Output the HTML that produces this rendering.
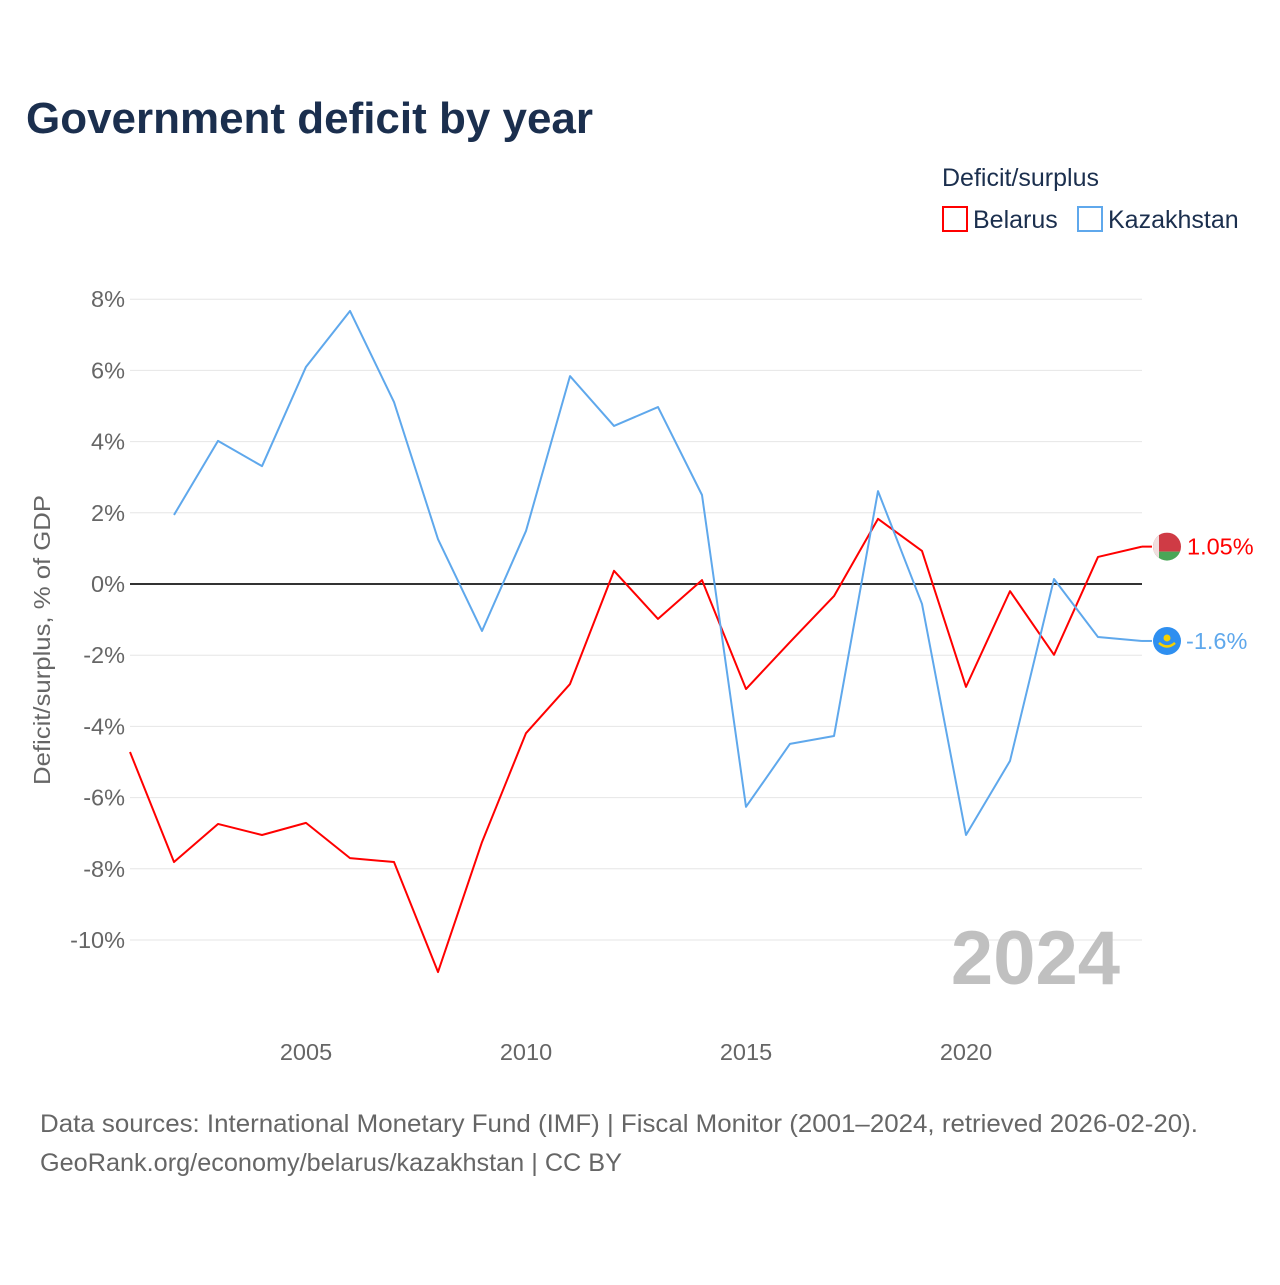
<!DOCTYPE html>
<html><head><meta charset="utf-8"><style>
html,body{margin:0;padding:0;background:#fff;}
body{width:1280px;height:1280px;overflow:hidden;font-family:"Liberation Sans",sans-serif;}
</style></head><body>
<svg id="chart" width="1280" height="1280" xmlns="http://www.w3.org/2000/svg" font-family="Liberation Sans, sans-serif">
<defs><clipPath id="cb"><circle id="cbc" cx="1167" cy="0" r="14"/></clipPath></defs>
<text x="26" y="133" font-size="44" font-weight="bold" fill="#1b2f4e" textLength="567" lengthAdjust="spacingAndGlyphs">Government deficit by year</text>
<text x="942" y="186" font-size="25" fill="#1b2f4e">Deficit/surplus</text>
<g>
<rect x="943" y="207" width="24" height="24" fill="none" stroke="#ff0000" stroke-width="2"/>
<text x="973" y="228" font-size="25" fill="#1b2f4e">Belarus</text></g>
<g>
<rect x="1078" y="207" width="24" height="24" fill="none" stroke="#5fa8ec" stroke-width="2"/>
<text x="1108" y="228" font-size="25" fill="#1b2f4e">Kazakhstan</text></g>
<text transform="translate(50,640) rotate(-90)" text-anchor="middle" font-size="23" fill="#666" textLength="290" lengthAdjust="spacingAndGlyphs">Deficit/surplus, % of GDP</text>
<g id="grid"></g><g id="yticks"></g><g id="xticks"></g>
<text x="1120" y="984" text-anchor="end" font-size="76" font-weight="bold" fill="#c0c0c0">2024</text>
<g id="series"></g>
<text x="40" y="1132" font-size="25" fill="#666" textLength="1158" lengthAdjust="spacingAndGlyphs">Data sources: International Monetary Fund (IMF) | Fiscal Monitor (2001–2024, retrieved 2026-02-20).</text>
<text x="40" y="1171" font-size="25" fill="#666" textLength="582" lengthAdjust="spacingAndGlyphs">GeoRank.org/economy/belarus/kazakhstan | CC BY</text>
</svg>
<script>
const years=[2001,2002,2003,2004,2005,2006,2007,2008,2009,2010,2011,2012,2013,2014,2015,2016,2017,2018,2019,2020,2021,2022,2023,2024];
const belarus=[-4.72,-7.81,-6.74,-7.05,-6.71,-7.70,-7.81,-10.9,-7.25,-4.19,-2.81,0.37,-0.98,0.11,-2.95,-1.63,-0.34,1.83,0.93,-2.89,-0.2,-1.99,0.76,1.05];
const kazakhstan=[null,1.94,4.02,3.31,6.10,7.67,5.11,1.26,-1.32,1.49,5.84,4.44,4.97,2.5,-6.26,-4.49,-4.27,2.61,-0.56,-7.05,-4.97,0.14,-1.49,-1.6];
const yTicks=[8,6,4,2,0,-2,-4,-6,-8,-10];
const xTicks=[2005,2010,2015,2020];
const NS="http://www.w3.org/2000/svg";
const x=y=>130+(y-2001)*44;
const yS=v=>584-v*35.6;
function mk(t,a,p){const e=document.createElementNS(NS,t);for(const k in a)e.setAttribute(k,a[k]);p.appendChild(e);return e;}
const grid=document.getElementById('grid'),yt=document.getElementById('yticks'),xt=document.getElementById('xticks'),ser=document.getElementById('series');
yTicks.forEach(v=>{
 const l=mk('line',{x1:130,x2:1142,y1:yS(v),y2:yS(v),stroke:v===0?'#333':'#e6e6e6','stroke-width':v===0?2:1},grid);
 
 
 const t=mk('text',{x:125,y:yS(v)+8,'text-anchor':'end','font-size':23.5,fill:'#666'},yt);
 t.textContent=v+'%';
 
 
});
xTicks.forEach(v=>{
 const t=mk('text',{x:x(v),y:1060,'text-anchor':'middle','font-size':23.5,fill:'#666'},xt);
 t.textContent=v;
 
 
});
function line(vals,color,name){
 const pts=[];vals.forEach((v,i)=>{if(v!==null)pts.push(x(years[i])+','+yS(v));});
 const p=mk('polyline',{points:pts.join(' '),fill:'none',stroke:color,'stroke-width':2,'stroke-linejoin':'round'},ser);
 
 
 const ly=yS(vals[vals.length-1]);
 mk('line',{x1:1142,x2:1152,y1:ly,y2:ly,stroke:color,'stroke-width':2},ser);
 return ly;
}
const by=line(belarus,'#ff0000','line-belarus');
const ky=line(kazakhstan,'#5fa8ec','line-kazakhstan');
document.getElementById('cbc').setAttribute('cy',by);
const fb=mk('g',{'clip-path':'url(#cb)'},ser);


mk('rect',{x:1153,y:by-14,width:28,height:19,fill:'#cf3b45'},fb);
mk('rect',{x:1153,y:by+5,width:28,height:10,fill:'#4aa657'},fb);
mk('rect',{x:1153,y:by-14,width:6,height:28,fill:'#f1dede'},fb);
const fk=mk('g',{},ser);


mk('circle',{cx:1167,cy:ky,r:14,fill:'#2e8ff0'},fk);
mk('circle',{cx:1167,cy:ky-3,r:3.5,fill:'#f5d000'},fk);
mk('path',{d:`M1159 ${ky+2} Q1167 ${ky+9} 1175 ${ky+2}`,stroke:'#f5d000','stroke-width':2.5,fill:'none'},fk);
const bl=mk('text',{x:1187,y:by+8,'font-size':23.5,fill:'#ff0000'},ser);bl.textContent=belarus[belarus.length-1].toFixed(2)+'%';


const kl=mk('text',{x:1186,y:ky+8,'font-size':23.5,fill:'#5fa8ec'},ser);kl.textContent=kazakhstan[kazakhstan.length-1]+'%';


</script>
</body></html>
